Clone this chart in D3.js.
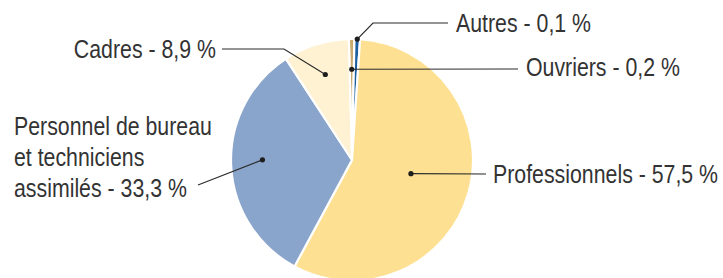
<!DOCTYPE html>
<html>
<head>
<meta charset="utf-8">
<script src="https://cdn.jsdelivr.net/npm/d3@7"></script>
<style>
  body { margin: 0; background: #fff; }
  text { font-family: "Liberation Sans", Arial, sans-serif; font-size: 26px; fill: #333; }
</style>
</head>
<body>
<div id="chart"></div>
<script>
// data, clockwise from 12 o'clock
var categories = ["Ouvriers", "Autres", "Professionnels", "Personnel de bureau et techniciens assimilés", "Cadres"];
var values = [0.2, 0.1, 57.5, 33.3, 8.9];
var labels = ["Ouvriers - 0,2 %", "Autres - 0,1 %", "Professionnels - 57,5 %",
  ["Personnel de bureau", "et techniciens", "assimilés - 33,3 %"], "Cadres - 8,9 %"];
var colors = ["#c9aa6f", "#1b5e9f", "#fde092", "#8aa5cb", "#fef2d2"];

var width = 723, height = 278;
var cx = 352, cy = 160, radius = 121;
var narrow = 0.82; // no condensed face installed, so squeeze a normal one

// label layout, relative to the pie center:
// dot radius fraction + angle nudge (deg), leader path, text anchor
var layout = [
  { f: 0.75, da: 0, path: [[166, -91]], text: [174, -84], anchor: "start" },
  { f: 1.0, da: 0, path: [[21, -137], [96, -137]], text: [104, -128], anchor: "start" },
  { f: 0.5, da: -3, path: [[134, 14]], text: [141, 23], anchor: "start" },
  { f: 0.74, da: 2.5, path: [[-154, 25]], text: [-338, -25], anchor: "start" },
  { f: 0.74, da: 0, path: [[-68, -111], [-130, -111]], text: [-136, -102], anchor: "end" }
];

var svg = d3.select("#chart").append("svg")
  .attr("width", width)
  .attr("height", height);

var g = svg.append("g").attr("transform", "translate(" + cx + "," + cy + ")");

var startAngle = -1.5 * Math.PI / 180;
// tiny slices are given a minimum visible share so they stay readable
var pie = d3.pie()
  .sort(null)
  .value(function (d) { return Math.max(d, 0.75); })
  .startAngle(startAngle)
  .endAngle(startAngle + 2 * Math.PI);

var arcs = pie(values);
var arc = d3.arc().innerRadius(0).outerRadius(radius);

g.selectAll("path.slice")
  .data(arcs)
  .enter().append("path")
  .attr("class", "slice")
  .attr("d", arc)
  .attr("fill", function (d, i) { return colors[i]; })
  .attr("stroke", "#fff")
  .attr("stroke-width", 2.2)
  .attr("stroke-linejoin", "round");

// leaders
arcs.forEach(function (d, i) {
  var lay = layout[i];
  var a = (d.startAngle + d.endAngle) / 2 + lay.da * Math.PI / 180;
  var r = radius * lay.f;
  var dot = [Math.sin(a) * r, -Math.cos(a) * r];
  var pts = [dot].concat(lay.path);

  g.append("path")
    .attr("d", d3.line()(pts))
    .attr("fill", "none")
    .attr("stroke", "#2b2b2b")
    .attr("stroke-width", 1.2);

  g.append("circle")
    .attr("cx", dot[0])
    .attr("cy", dot[1])
    .attr("r", 2.6)
    .attr("fill", "#1e1e1e");

  var lines = Array.isArray(labels[i]) ? labels[i] : [labels[i]];
  var t = g.append("text")
    .attr("transform", "translate(" + lay.text[0] + "," + lay.text[1] + ") scale(" + narrow + ",1)")
    .attr("text-anchor", lay.anchor);
  lines.forEach(function (s, k) {
    t.append("tspan")
      .attr("x", 0)
      .attr("dy", k === 0 ? 0 : 31)
      .text(s);
  });
});
</script>
</body>
</html>
